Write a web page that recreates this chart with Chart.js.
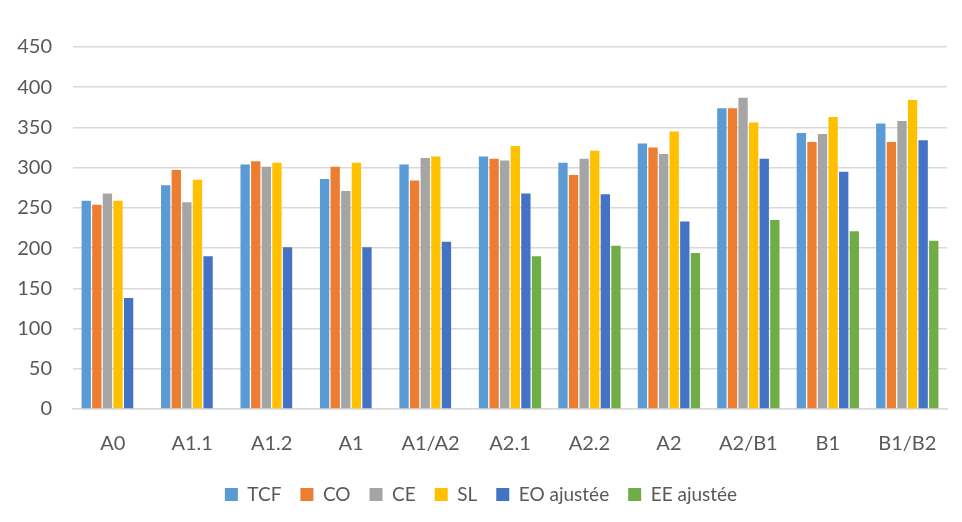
<!DOCTYPE html>
<html>
<head>
<meta charset="utf-8">
<script src="https://cdn.jsdelivr.net/npm/chart.js@4/dist/chart.umd.min.js"></script>
<style>
  html, body { margin: 0; padding: 0; background: #fff; }
  #wrap { width: 962px; height: 522px; }
</style>
</head>
<body>
<div id="wrap"><canvas id="niveauxChart"></canvas></div>
<script>
const categories = ["A0", "A1.1", "A1.2", "A1", "A1/A2", "A2.1", "A2.2", "A2", "A2/B1", "B1", "B1/B2"];

const tcf = [259, 278, 304, 286, 304, 314, 306, 330, 374, 343, 355];
const co = [254, 297, 308, 301, 284, 311, 291, 325, 374, 332, 332];
const ce = [268, 257, 301, 271, 312, 309, 311, 317, 387, 342, 358];
const sl = [259, 285, 306, 306, 314, 327, 321, 345, 356, 363, 384];
const eoAjustee = [138, 190, 201, 201, 208, 268, 267, 233, 311, 295, 334];
const eeAjustee = [null, null, null, null, null, 190, 203, 194, 235, 221, 209];

const yTicks = [0, 50, 100, 150, 200, 250, 300, 350, 400, 450];

const ctx = document.getElementById("niveauxChart").getContext("2d");

new Chart(ctx, {
  type: "bar",
  data: {
    labels: categories,
    datasets: [
      { label: "TCF", data: tcf, backgroundColor: "#5B9BD5" },
      { label: "CO", data: co, backgroundColor: "#ED7D31" },
      { label: "CE", data: ce, backgroundColor: "#A5A5A5" },
      { label: "SL", data: sl, backgroundColor: "#FFC000" },
      { label: "EO ajustée", data: eoAjustee, backgroundColor: "#4472C4" },
      { label: "EE ajustée", data: eeAjustee, backgroundColor: "#70AD47" },
    ],
  },
  options: {
    responsive: true,
    maintainAspectRatio: false,
    animation: false,
    layout: { padding: { left: 15, right: 15, top: 47, bottom: 8 } },
    datasets: { bar: { categoryPercentage: 0.8, barPercentage: 0.88 } },
    scales: {
      x: {
        grid: { display: false },
        border: { color: "#d9d9d9", width: 1.5 },
        ticks: { color: "#595959", font: { family: "Lato", size: 20 }, padding: 15 },
        afterFit: (axis) => { axis.height = 57; },
      },
      y: {
        min: 0,
        max: 450,
        afterBuildTicks: (axis) => { axis.ticks = yTicks.map((v) => ({ value: v })); },
        grid: { color: "#d9d9d9", lineWidth: 1.5, drawTicks: false },
        border: { display: false },
        ticks: { color: "#595959", font: { family: "Lato", size: 20 }, padding: 21 },
        afterFit: (axis) => { axis.width = 58; },
      },
    },
    plugins: {
      legend: {
        display: true,
        position: "bottom",
        labels: {
          color: "#595959",
          font: { family: "Lato", size: 19 },
          boxWidth: 13,
          boxHeight: 13,
          padding: 19,
        },
      },
      tooltip: { enabled: false },
    },
  },
});
</script>
</body>
</html>
